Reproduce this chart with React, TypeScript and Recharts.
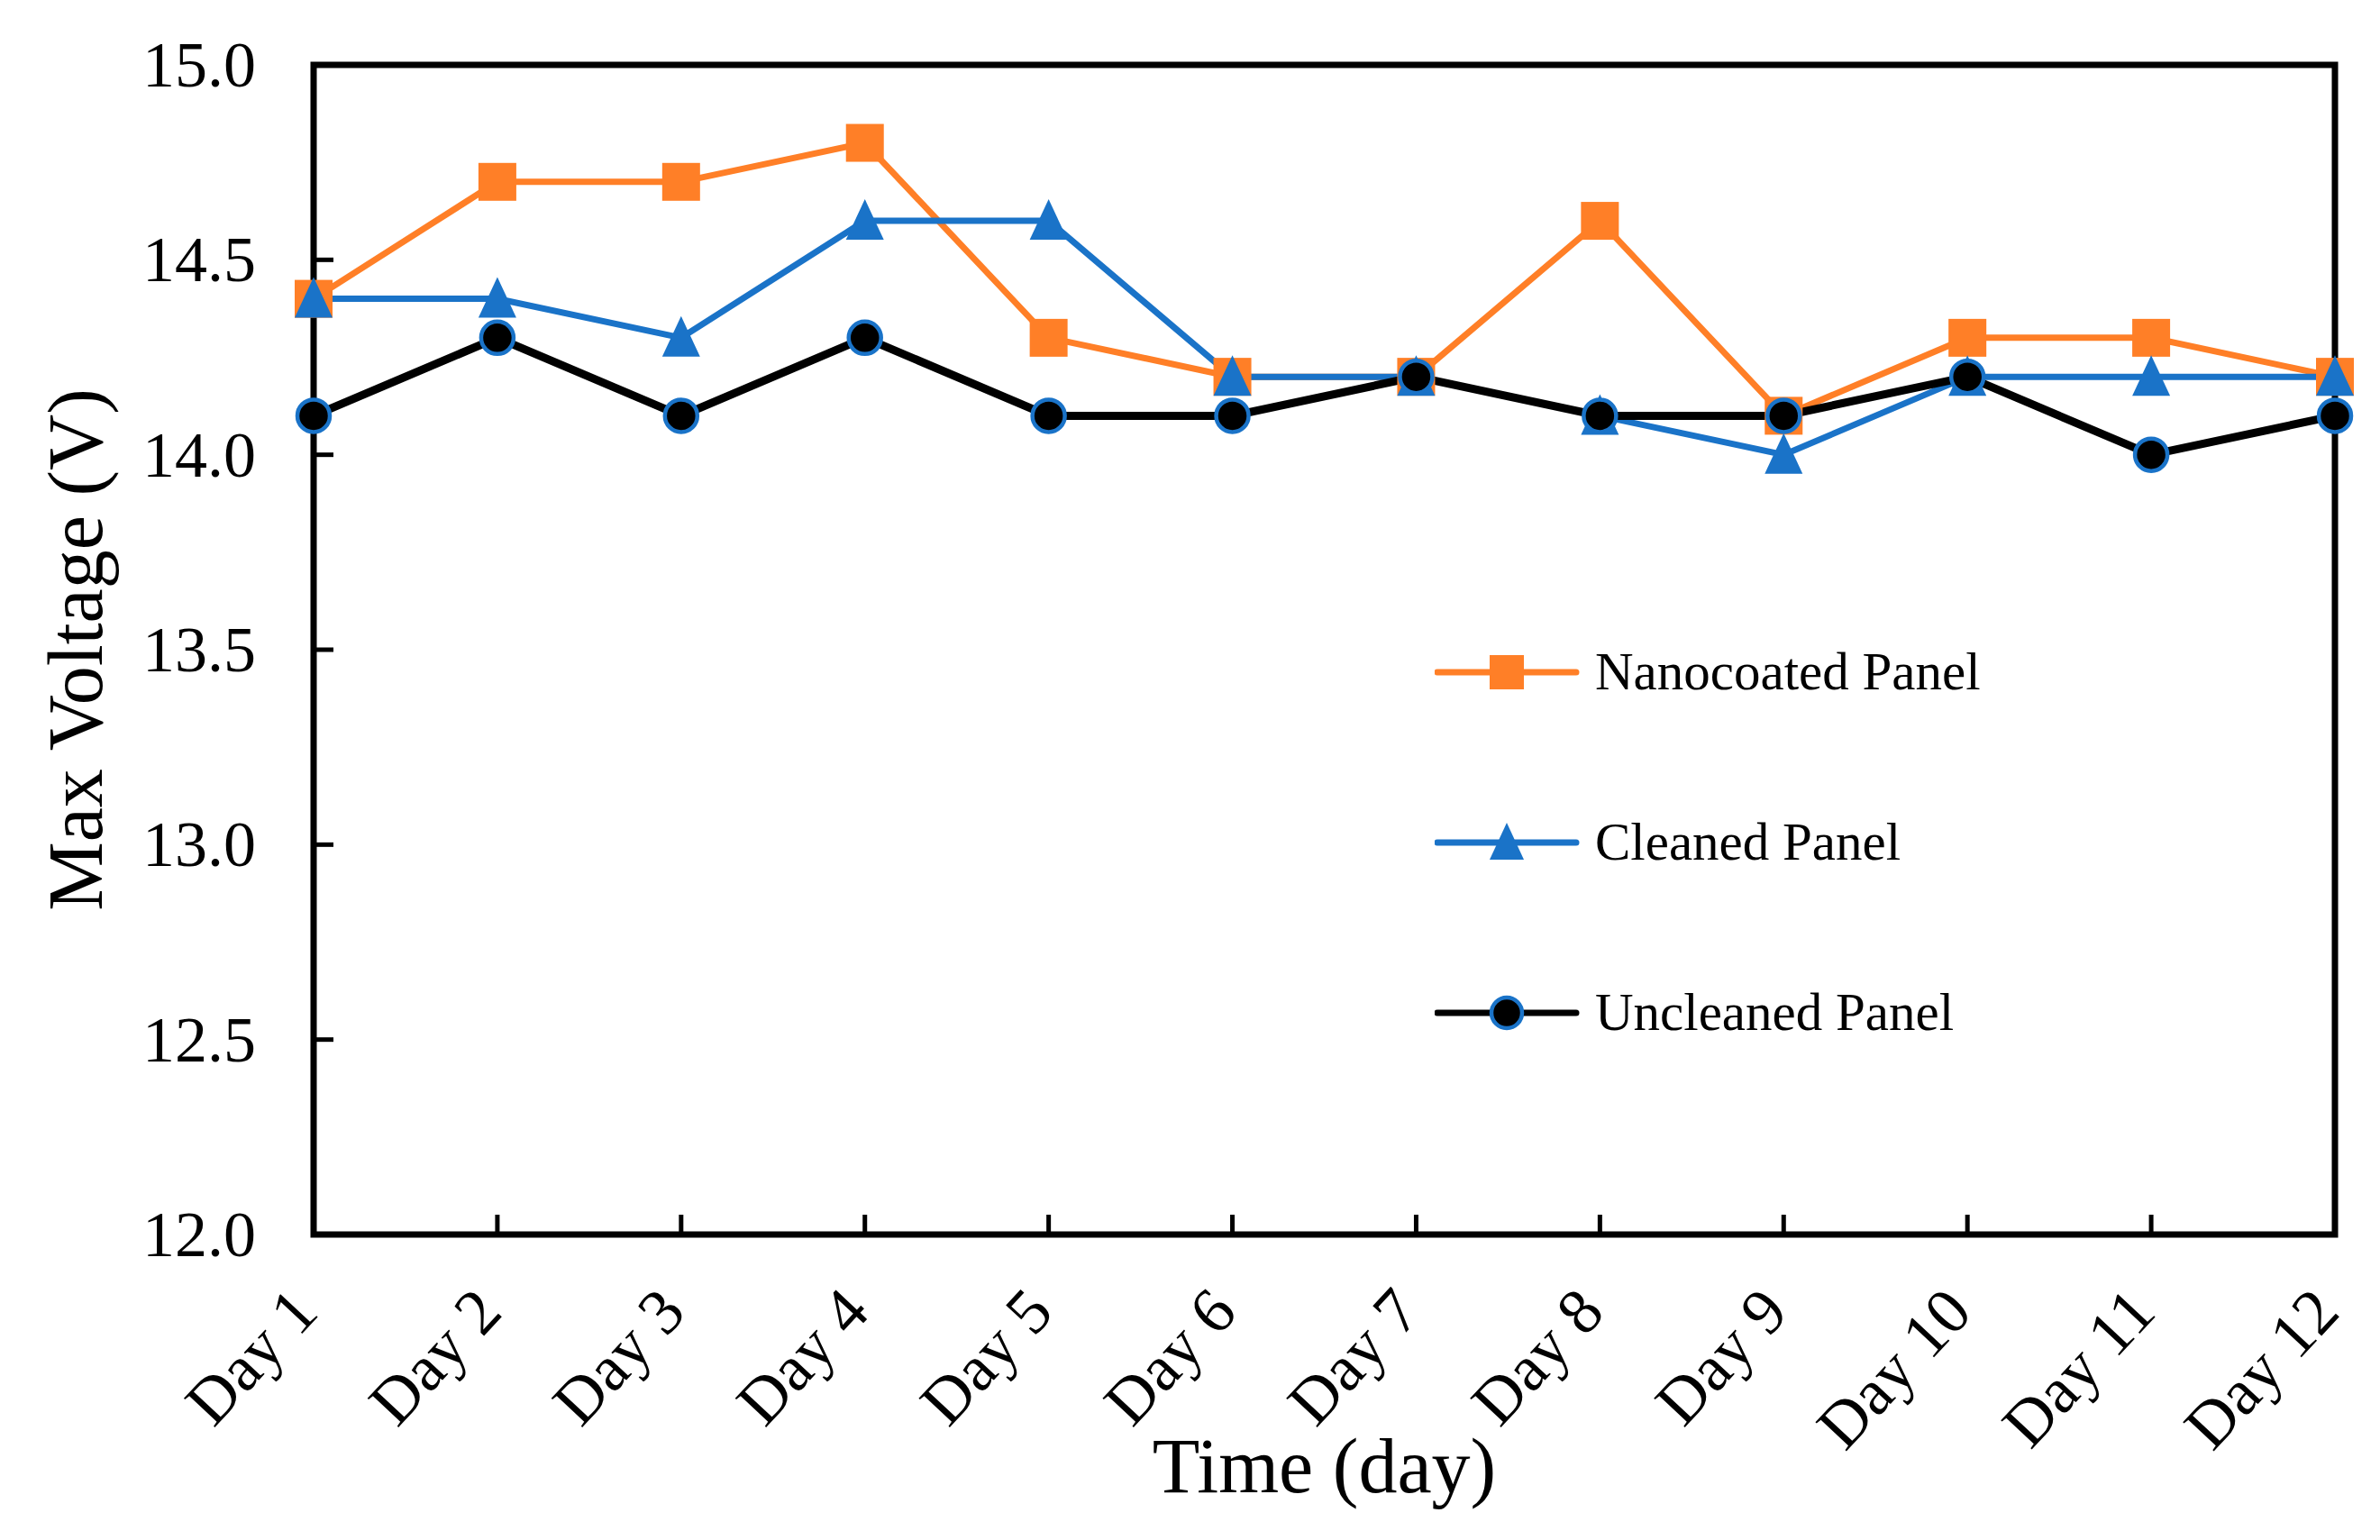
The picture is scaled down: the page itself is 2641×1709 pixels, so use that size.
import React from 'react';
import { LineChart, Line, XAxis, YAxis, Legend, ReferenceArea, Label } from 'recharts';

const days = ['Day 1', 'Day 2', 'Day 3', 'Day 4', 'Day 5', 'Day 6', 'Day 7', 'Day 8', 'Day 9', 'Day 10', 'Day 11', 'Day 12'];
const nanocoated = [14.4, 14.7, 14.7, 14.8, 14.3, 14.2, 14.2, 14.6, 14.1, 14.3, 14.3, 14.2];
const cleaned = [14.4, 14.4, 14.3, 14.6, 14.6, 14.2, 14.2, 14.1, 14.0, 14.2, 14.2, 14.2];
const uncleaned = [14.1, 14.3, 14.1, 14.3, 14.1, 14.1, 14.2, 14.1, 14.1, 14.2, 14.0, 14.1];
const yTicks = [12, 12.5, 13, 13.5, 14, 14.5, 15];
const seriesNames = ['Nanocoated Panel', 'Cleaned Panel', 'Uncleaned Panel'];

const ORANGE = '#FF7F27';
const BLUE = '#1A73C8';
const FONT = "'Liberation Serif', 'Times New Roman', serif";

const Y_TICK_MARGIN = 64;
const X_TICK_MARGIN = 40;
const TICK_LEN = 22;

const data = days.map((day, i) => ({
  day,
  nanocoated: nanocoated[i],
  cleaned: cleaned[i],
  uncleaned: uncleaned[i],
}));

const Square = ({ cx, cy, size = 42 }: any) => (
  <rect x={cx - size / 2} y={cy - size / 2} width={size} height={size} fill={ORANGE} />
);

const Triangle = ({ cx, cy, size = 42 }: any) => (
  <polygon
    points={`${cx},${cy - size / 2 - 3} ${cx - size / 2},${cy + size / 2} ${cx + size / 2},${cy + size / 2}`}
    fill={BLUE}
  />
);

const Circle = ({ cx, cy, r = 18 }: any) => (
  <circle cx={cx} cy={cy} r={r} fill="#000" stroke={BLUE} strokeWidth={4.5} />
);

const YTick = ({ x, y, payload }: any) => (
  <g>
    <text x={x} y={y} textAnchor="end" dominantBaseline="central" fontSize={72} fontFamily={FONT} fill="#000">
      {Number(payload.value).toFixed(1)}
    </text>
    <line x1={x + Y_TICK_MARGIN} x2={x + Y_TICK_MARGIN + TICK_LEN} y1={y} y2={y} stroke="#000" strokeWidth={5} />
  </g>
);

const XTick = ({ x, y, payload }: any) => (
  <g>
    <line x1={x} x2={x} y1={y - X_TICK_MARGIN} y2={y - X_TICK_MARGIN - TICK_LEN} stroke="#000" strokeWidth={5} />
    <g transform={`translate(${x - 10},${y + 32})`}>
      <text transform="rotate(-47)" textAnchor="end" dominantBaseline="central" fontSize={72} fontFamily={FONT} fill="#000">
        {payload.value}
      </text>
    </g>
  </g>
);

const legendIcons = [
  <Square cx={80} cy={30} size={38} />,
  <Triangle cx={80} cy={30} size={38} />,
  <Circle cx={80} cy={30} r={17} />,
];
const legendColors = [ORANGE, BLUE, '#000'];

const renderLegend = () => (
  <div>
    {seriesNames.map((name, i) => (
      <div key={name} style={{ height: 189, display: 'flex', alignItems: 'center' }}>
        <svg width={176} height={60} style={{ display: 'block' }}>
          <line x1={3} x2={157} y1={30} y2={30} stroke={legendColors[i]} strokeWidth={7} strokeLinecap="round" />
          {legendIcons[i]}
        </svg>
        <span style={{ fontFamily: FONT, fontSize: 59, color: '#000', marginLeft: 2 }}>{name}</span>
      </div>
    ))}
  </div>
);

export default function App() {
  return (
    <div style={{ position: 'absolute', left: 0, top: 0, width: 2641, height: 1709, overflow: 'hidden', background: '#fff' }}>
      <LineChart width={2641} height={1709} data={data} margin={{ top: 72, right: 50, left: 148, bottom: 89 }}>
        <XAxis
          dataKey="day"
          interval={0}
          axisLine={false}
          tickLine={false}
          tickSize={0}
          tickMargin={X_TICK_MARGIN}
          height={250}
          tick={<XTick />}
        >
          <Label
            content={({ viewBox }: any) => (
              <text x={viewBox.x + viewBox.width / 2} y={1656} textAnchor="middle" fontSize={86} fontFamily={FONT} fill="#000">
                Time (day)
              </text>
            )}
          />
        </XAxis>
        <YAxis
          domain={[12, 15]}
          ticks={yTicks}
          interval={0}
          axisLine={false}
          tickLine={false}
          tickSize={0}
          tickMargin={Y_TICK_MARGIN}
          width={200}
          tick={<YTick />}
        >
          <Label
            content={({ viewBox }: any) => {
              const cy = viewBox.y + viewBox.height / 2;
              return (
                <text x={113} y={cy} transform={`rotate(-90, 113, ${cy})`} textAnchor="middle" fontSize={86} fontFamily={FONT} fill="#000">
                  Max Voltage (V)
                </text>
              );
            }}
          />
        </YAxis>
        <ReferenceArea x1="Day 1" x2="Day 12" y1={12} y2={15} fill="none" stroke="#000" strokeWidth={7} ifOverflow="visible" />
        <Legend
          content={renderLegend}
          layout="vertical"
          align="center"
          verticalAlign="middle"
          wrapperStyle={{ left: 1592, top: 651, width: 900 }}
        />
        <Line
          dataKey="nanocoated"
          name={seriesNames[0]}
          stroke={ORANGE}
          strokeWidth={7}
          dot={(p: any) => <Square key={`sq-${p.index}`} cx={p.cx} cy={p.cy} />}
          activeDot={false}
          isAnimationActive={false}
        />
        <Line
          dataKey="cleaned"
          name={seriesNames[1]}
          stroke={BLUE}
          strokeWidth={7}
          dot={(p: any) => <Triangle key={`tr-${p.index}`} cx={p.cx} cy={p.cy} />}
          activeDot={false}
          isAnimationActive={false}
        />
        <Line
          dataKey="uncleaned"
          name={seriesNames[2]}
          stroke="#000"
          strokeWidth={9}
          dot={(p: any) => <Circle key={`ci-${p.index}`} cx={p.cx} cy={p.cy} />}
          activeDot={false}
          isAnimationActive={false}
        />
      </LineChart>
    </div>
  );
}
